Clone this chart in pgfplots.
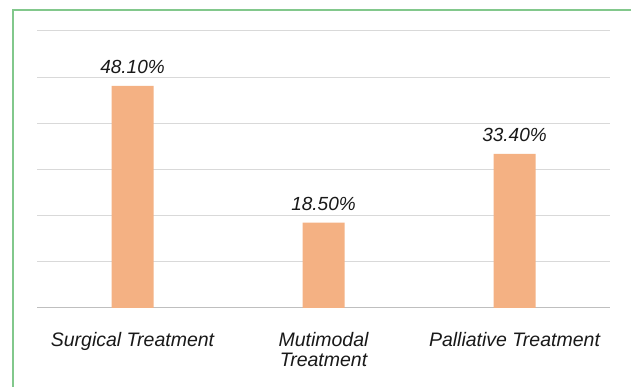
\documentclass[border=0pt]{standalone}
\usepackage{pgfplots}
\pgfplotsset{compat=1.18}
\usepackage{fontspec}
\setmainfont{Liberation Sans}
\definecolor{barc}{RGB}{244,177,131}
\definecolor{gridc}{RGB}{217,217,217}
\definecolor{axc}{RGB}{191,191,191}
\definecolor{frame}{RGB}{130,200,140}
\begin{document}
\begin{tikzpicture}[x=1pt,y=1pt]
\path[use as bounding box, fill=white] (0,0) rectangle (631,387);
\begin{axis}[
  at={(37pt,79pt)}, anchor=south west,
  scale only axis, width=573pt, height=277pt,
  xmin=-0.5, xmax=2.5, ymin=0, ymax=60,
  ytick={10,20,...,60}, yticklabels={},
  extra y ticks={0}, extra y tick labels={},
  extra y tick style={grid style={draw=axc, line width=1pt}},
  ymajorgrids, grid style={draw=gridc, line width=1pt},
  axis line style={draw=none},
  major tick length=0pt,
  xtick={0,1,2},
  xticklabels={Surgical Treatment,{Mutimodal\\Treatment},Palliative Treatment},
  xticklabel style={font=\fontsize{19.5}{20.5}\selectfont\itshape, align=center, anchor=north, inner sep=0pt, yshift=-24pt, text=black!90},
  clip=false,
  ]
\addplot[ybar, bar width=42pt, fill=barc, draw=none,
  point meta=explicit symbolic,
  nodes near coords,
  every node near coord/.style={font=\fontsize{19}{22}\selectfont\itshape, anchor=base, inner sep=0pt, yshift=12.5pt, text=black!90}]
  coordinates {(0,48.1) [48.10\%] (1,18.5) [18.50\%] (2,33.4) [33.40\%]};
\end{axis}
\draw[frame, line width=2.5pt] (13,-5) -- (13,377) -- (640,377);
\end{tikzpicture}
\end{document}
